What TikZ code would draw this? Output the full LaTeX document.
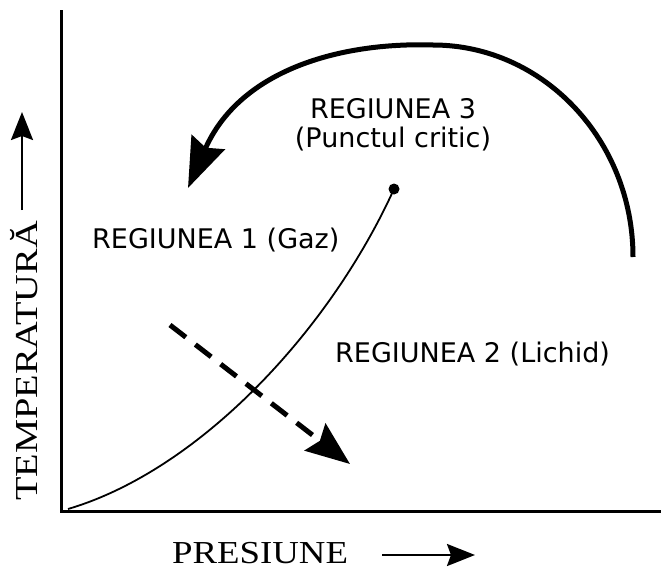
\documentclass[tikz,border=0pt]{standalone}
\usepackage{fontspec}
\setmainfont{Liberation Serif}
\newfontfamily\labelfont{DejaVu Sans}
\usetikzlibrary{arrows.meta}
\begin{document}
\begin{tikzpicture}[x=1pt,y=-1pt,
  region/.style={font=\labelfont\fontsize{27}{30}\selectfont, inner sep=0pt},
  axislabel/.style={font=\fontsize{32}{34}\selectfont, inner sep=0pt},
  axisline/.style={line width=3pt},
  smallarrow/.style={line width=2.5pt, -{Stealth[length=28pt,width=22pt,inset=4pt]}},
  bigarrow/.style={line width=5pt, -{Stealth[length=50pt,width=36pt,inset=6pt]}},
  dasharrow/.style={line width=5pt, dash pattern=on 20pt off 12pt, -{Stealth[length=44pt,width=34pt,inset=6pt]}},
]
\useasboundingbox (0,0) rectangle (661,570);
% axes
\coordinate (top) at (61,10);
\coordinate (O) at (61,511);
\coordinate (right) at (661,511);
\draw[axisline] (top) -- (O) -- (right);
% axis labels
\node[axislabel, rotate=90, anchor=base] (ylab) at (37,361) {\scalebox{1.2}[1]{TEMPERATURĂ}};
\coordinate (yA) at (22,210);
\coordinate (yB) at (22,112);
\draw[smallarrow] (yA) -- (yB);
\node[axislabel, anchor=base west] (xlab) at (172,563) {\scalebox{1.15}[1]{PRESIUNE}};
\coordinate (xA) at (382,555);
\coordinate (xB) at (475,555);
\draw[smallarrow] (xA) -- (xB);
% coexistence curve
\coordinate (cstart) at (68,509);
\node[circle, fill, inner sep=0pt, minimum size=11pt] (cp) at (394,189) {};
\draw[line width=1.8pt] (cstart) .. controls (200,470) and (330,330) .. (cp.center);
% big arc
\coordinate (arcA) at (633,257);
\coordinate (arcTop) at (433,45);
\coordinate (arcB) at (188,188);
\draw[bigarrow] (arcA) .. controls (633,140) and (543,45) .. (arcTop) .. controls (340,42) and (240,70) .. (arcB);
% dashed arrow
\coordinate (dA) at (170,325);
\coordinate (dB) at (350,464);
\draw[dasharrow] (dA) -- (dB);
% region labels
\node[region, anchor=base] (r3) at (393,118) {REGIUNEA 3};
\node[region, anchor=base] (r3b) at (393,147) {(Punctul critic)};
\node[region, anchor=base west] (r1) at (92,248) {REGIUNEA 1 (Gaz)};
\node[region, anchor=base west] (r2) at (335,362) {REGIUNEA 2 (Lichid)};
\end{tikzpicture}
\end{document}
